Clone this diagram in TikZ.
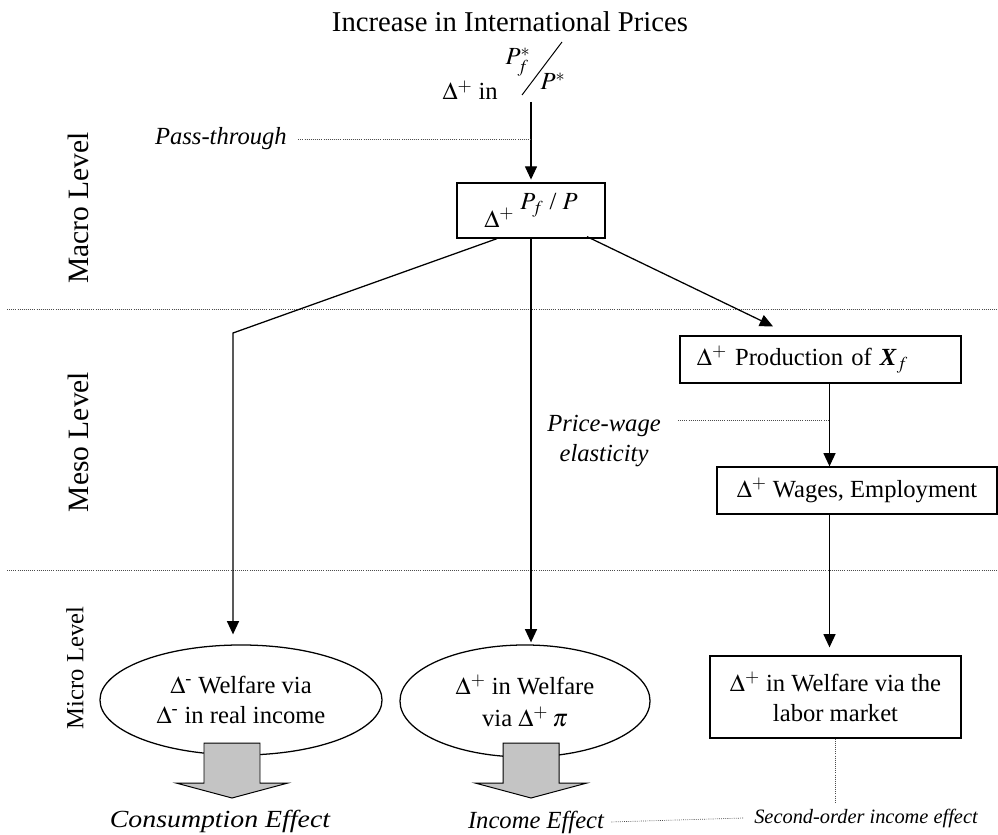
\documentclass[tikz,border=0pt]{standalone}
\usepackage{mathptmx}
\usepackage{fontspec}
\setmainfont{Liberation Serif}
\usetikzlibrary{arrows.meta,calc,shapes.geometric}

\newcommand{\bodysize}{\fontsize{17.5}{21}\selectfont}

\begin{document}
\begin{tikzpicture}[x=0.025cm,y=-0.025cm,
  every node/.style={font=\bodysize,inner sep=0pt},
  line/.style={line width=0.9pt,color=black},
  arr/.style={line,-{Triangle[length=3.3mm,width=3mm]}},
  dots/.style={line width=0.5pt,color=black!70,dash pattern=on 0.6pt off 0.9pt},
  box/.style={draw,line width=0.9pt},
  oval/.style={draw,ellipse,line width=0.9pt,align=center},
  blockarr/.style={draw,line width=0.7pt,fill=black!23},
  note/.style={font=\bodysize\itshape},
  level/.style={rotate=90,font=\fontsize{21}{24}\selectfont}]
\useasboundingbox (0,0) rectangle (998,834);

% levels
\draw[dots] (7,309) -- (998,309);
\draw[dots] (7,570) -- (998,570);
\node[level] (macro) at (78,208) {Macro Level};
\node[level] (meso) at (78,442) {Meso Level};
\node[rotate=90] (micro) at (75,668) {Micro Level};

\node[anchor=base,font=\fontsize{20.4}{24}\selectfont] (title) at (510,32) {Increase in International Prices};

\node[anchor=base east] (din) at (498,100) {$\Delta^{+}$ in};
\node[anchor=base] (pfs) at (518,65) {$P_f^*$};
\node[anchor=base] (ps) at (553,90) {$P^*$};
\coordinate (sl1) at (522,95);
\coordinate (sl2) at (562,42);
\draw[line,line width=0.7pt] (sl1) -- (sl2);

\coordinate (src) at (531,102);
\node[box,minimum width=3.7cm,minimum height=1.375cm] (fp) at (531,210.5) {\raisebox{-0.7em}{$\Delta^{+}$}\ $P_f$ / $P$};
\draw[arr,shorten >=0.07cm] (src) -- (fp.north);

\node[note,anchor=base east] (pass) at (287,145) {Pass-through};
\draw[dots] ([xshift=0.28cm]pass.east) -- (pass.east -| src);

% meso boxes
\node[box,minimum width=7.025cm,minimum height=1.175cm,text width=6.175cm,align=left] (prod) at (820.5,359.5) {$\Delta^{+}$ Production of \textbf{\textit{X}}$_{f}$};
\node[box,minimum width=7cm,minimum height=1.175cm] (wage) at (857,490.5) {$\Delta^{+}$ Wages, Employment};

% micro level
\node[oval,minimum width=7.05cm,minimum height=2.75cm] (cons) at (241,700) {$\Delta$\textsuperscript{-} Welfare via\\$\Delta$\textsuperscript{-} in real income};
\node[oval,minimum width=6.25cm,minimum height=2.8cm] (inc) at (525,701) {$\Delta^{+}$ in Welfare\\[2pt]via $\Delta^{+}$\,$\pi$};
\node[box,minimum width=6.275cm,minimum height=2.05cm,align=center] (lab) at (835.5,697) {$\Delta^{+}$ in Welfare via the\\labor market};

\coordinate (lb) at ($(fp.south)+(-34,0)$);
\coordinate (lk) at (233,333);
\draw[arr,shorten >=0.25cm] (lb) -- (lk) -- (lk |- cons.north);
\draw[arr,shorten >=0.05cm] (fp.south) -- (fp.south |- inc.north);
\coordinate (rb) at ($(fp.south)+(56,-2)$);
\draw[arr] (rb) -- ($(prod.north)+(-47.5,-9)$);

\coordinate (rx) at (829.5,0);
\draw[arr] (prod.south -| rx) -- (wage.north -| rx);
\draw[arr,shorten >=0.2cm] (wage.south -| rx) -- (lab.north -| rx);

\node[note,align=center] (pw) at (604,441) {Price-wage\\elasticity};
\coordinate (pws) at (678,420);
\draw[dots] (pws) -- (pws -| rx);

\coordinate (ba1) at (232,743);
\coordinate (ba2) at (531,743);
\foreach \b in {ba1,ba2}
  \draw[blockarr] ($(\b)+(-28,0)$) -- ++(56,0) -- ++(0,40) -- ++(28,0) -- ++(-56,15) -- ++(-56,-15) -- ++(28,0) -- cycle;

\node[note,anchor=base] (ceff) at (220,827) {\scalebox{1.13}[1]{Consumption Effect}};
\node[note,anchor=base] (ieff) at (536,828) {Income Effect};
\node[anchor=base,font=\fontsize{14.5}{17}\selectfont\itshape] (seff) at (866,823) {Second-order income effect};
\draw[dots] ([xshift=0.18cm]ieff.east) -- ([xshift=-0.25cm]seff.west);
\coordinate (sx) at ($(lab.south)+(0,64)$);
\draw[dots] (lab.south) -- (sx);

\end{tikzpicture}
\end{document}
